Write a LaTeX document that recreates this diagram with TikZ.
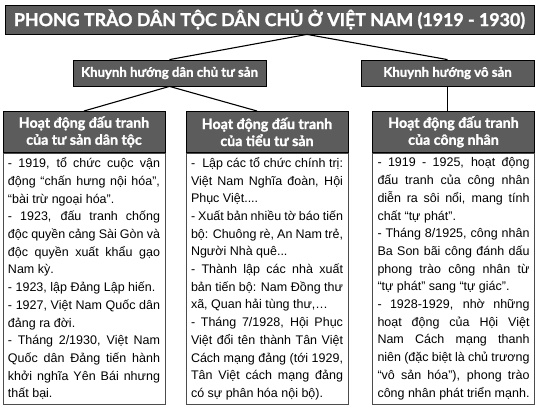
\documentclass[tikz,border=0pt]{standalone}
\usepackage{fontspec}
\setmainfont{Liberation Sans}
\newfontfamily\headfont{Lato}[BoldFeatures={FakeBold=1.4}]
\usetikzlibrary{positioning}
\definecolor{boxgray}{RGB}{92,92,92}
\hbadness=10000

\begin{document}
\begin{tikzpicture}[x=1pt, y=-1pt,
    darkbox/.style={draw=black, line width=0.8pt, fill=boxgray, text=white,
        inner sep=0pt, font=\headfont\bfseries\fontsize{13.2}{15}\selectfont},
    colhead/.style={darkbox, minimum width=162pt, minimum height=41pt, align=center,
        font=\headfont\bfseries\fontsize{14.2}{17}\selectfont},
    colbody/.style={draw=black!70, line width=0.8pt, fill=white, text width=152pt,
        inner xsep=5pt, inner ysep=0pt, minimum height=251pt, align=justify,
        font=\fontsize{12.5}{17.7}\selectfont},
    link/.style={line width=1.1pt}]
    \useasboundingbox (0,0) rectangle (539,410);
%
    \node[darkbox, minimum width=529pt, minimum height=29pt,
        font=\headfont\bfseries\fontsize{17.8}{20}\selectfont] (title) at (269.5,19.5)
        {PHONG TRÀO DÂN TỘC DÂN CHỦ Ở VIỆT NAM (1919 - 1930)};
    \node[darkbox, minimum width=193pt, minimum height=26pt] (dcts) at (169.5,73)
        {Khuynh hướng dân chủ tư sản};
    \node[darkbox, minimum width=173pt, minimum height=26pt] (vs) at (447.5,73)
        {Khuynh hướng vô sản};
%
    \node[colhead, anchor=north] (tsdt) at (84,111) {Hoạt động đấu tranh\\của tư sản dân tộc};
    \node[colhead, anchor=north] (tts) at (267,111) {Hoạt động đấu tranh\\của tiểu tư sản};
    \node[colhead, anchor=north] (cn) at (453.5,111) {Hoạt động đấu tranh\\của công nhân};
%
    \node[colbody, below=0pt of tsdt] (tsdtbody) {%
        - 1919, tổ chức cuộc vận\linebreak động “chấn hưng nội hóa”,\linebreak “bài trừ ngoại hóa”.\\
        - 1923, đấu tranh chống\linebreak độc quyền cảng Sài Gòn và\linebreak độc quyền xuất khẩu gạo\linebreak Nam kỳ.\\
        - 1923, lập Đảng Lập hiến.\\
        - 1927, Việt Nam Quốc dân\linebreak đảng ra đời.\\
        - Tháng 2/1930, Việt Nam\linebreak Quốc dân Đảng tiến hành\linebreak khởi nghĩa Yên Bái nhưng\linebreak thất bại.};
    \node[colbody, below=0pt of tts] (ttsbody) {%
        -\ \ Lập các tổ chức chính trị:\linebreak Việt Nam Nghĩa đoàn, Hội\linebreak Phục Việt....\\
        - Xuất bản nhiều tờ báo tiến\linebreak bộ: Chuông rè, An Nam trẻ,\linebreak Người Nhà quê...\\
        - Thành lập các nhà xuất\linebreak bản tiến bộ: Nam Đồng thư\linebreak xã, Quan hải tùng thư,…\\
        - Tháng 7/1928, Hội Phục\linebreak Việt đổi tên thành Tân Việt\linebreak Cách mạng đảng (tới 1929,\linebreak Tân Việt cách mạng đảng\linebreak có sự phân hóa nội bộ).};
    \node[colbody, below=0pt of cn] (cnbody) {%
        - 1919 - 1925, hoạt động\linebreak đấu tranh của công nhân\linebreak diễn ra sôi nổi, mang tính\linebreak chất “tự phát”.\\
        - Tháng 8/1925, công nhân\linebreak Ba Son bãi công đánh dấu\linebreak phong trào công nhân từ\linebreak “tự phát” sang “tự giác”.\\
        - 1928-1929, nhờ những\linebreak hoạt động của Hội Việt\linebreak Nam Cách mạng thanh\linebreak niên (đặc biệt là chủ trương\linebreak “vô sản hóa”), phong trào\linebreak công nhân phát triển mạnh.};
%
    \coordinate (tj) at ([xshift=37.5pt]title.south);
    \draw[link] (tj) -- (dcts.north);
    \draw[link] (tj) -- (vs.north);
    \draw[link] (dcts.south) -- (tsdt.north);
    \draw[link] (dcts.south) -- ([xshift=-10pt]tts.north);
    \draw[link] (vs.south) -- (vs.south |- cn.north);
\end{tikzpicture}
\end{document}
